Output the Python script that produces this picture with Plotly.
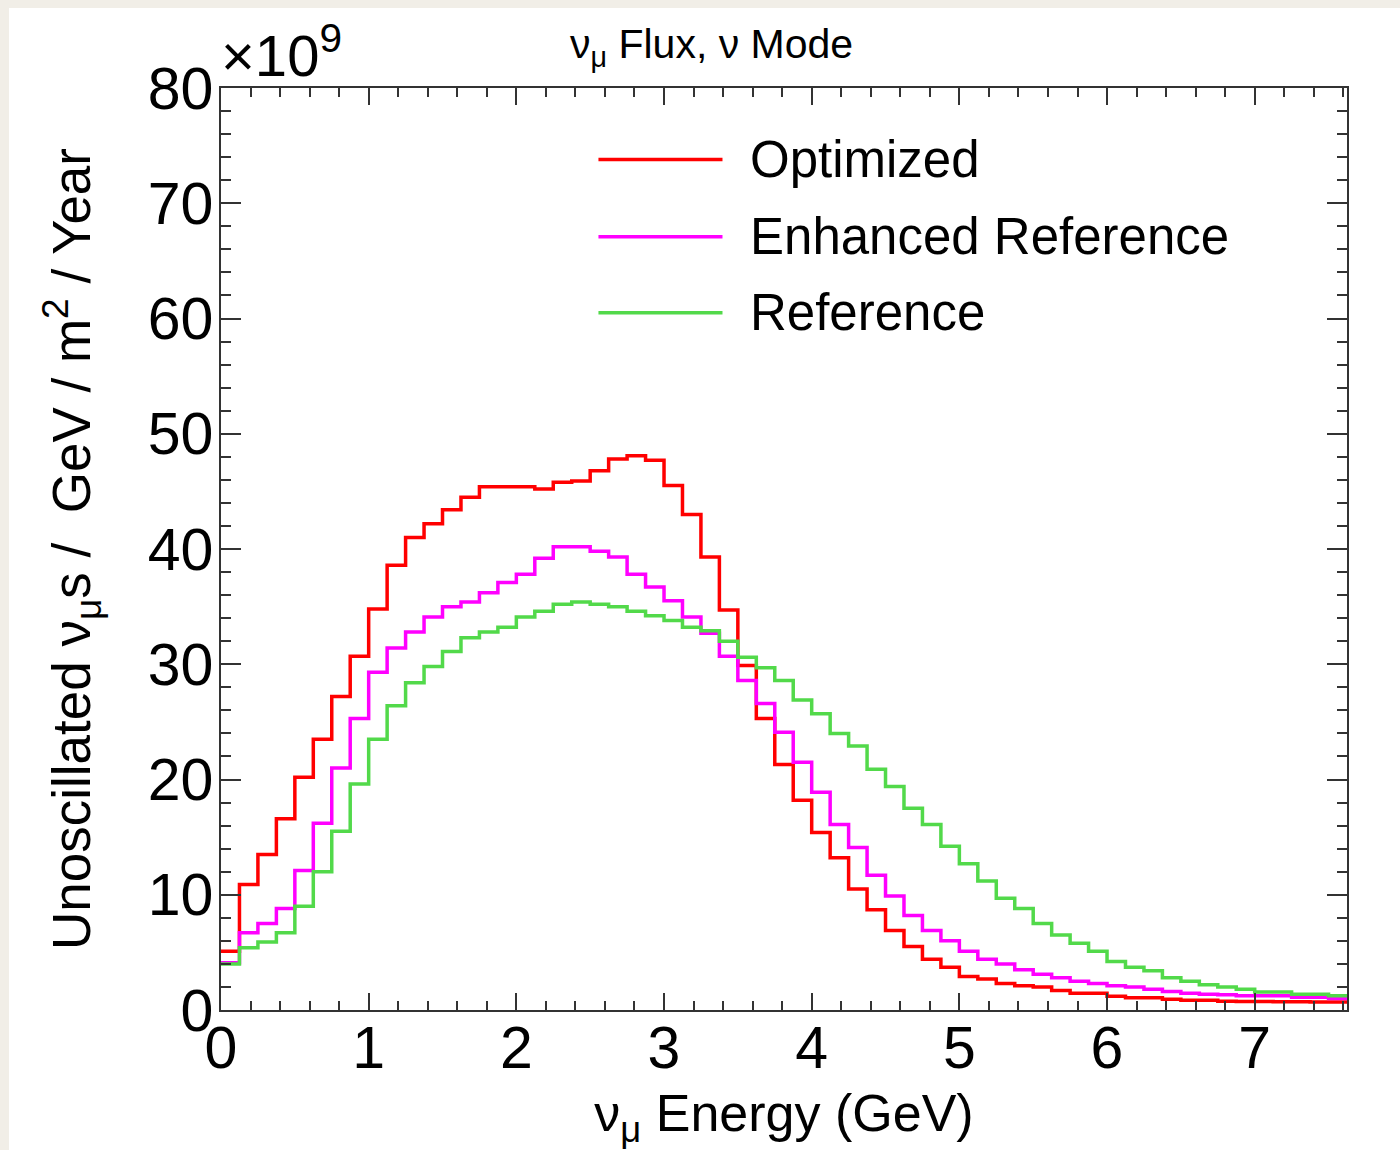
import plotly.graph_objects as go

# Energy bin edges (GeV), bin width 0.125 GeV, last edge 7.625
bin_edges = [0.0, 0.125, 0.25, 0.375, 0.5, 0.625, 0.75, 0.875, 1.0, 1.125, 1.25, 1.375,
             1.5, 1.625, 1.75, 1.875, 2.0, 2.125, 2.25, 2.375, 2.5, 2.625, 2.75, 2.875,
             3.0, 3.125, 3.25, 3.375, 3.5, 3.625, 3.75, 3.875, 4.0, 4.125, 4.25, 4.375,
             4.5, 4.625, 4.75, 4.875, 5.0, 5.125, 5.25, 5.375, 5.5, 5.625, 5.75, 5.875,
             6.0, 6.125, 6.25, 6.375, 6.5, 6.625, 6.75, 6.875, 7.0, 7.125, 7.25, 7.375,
             7.5, 7.625]

# Flux values in units of 1e9 per GeV / m^2 / year
optimized = [5.1, 10.9, 13.5, 16.6, 20.2, 23.5, 27.2, 30.7, 34.8, 38.6, 41.0, 42.2,
             43.4, 44.5, 45.4, 45.4, 45.4, 45.2, 45.8, 45.9, 46.8, 47.8, 48.1, 47.7,
             45.5, 43.0, 39.3, 34.7, 29.9, 25.3, 21.3, 18.2, 15.4, 13.2, 10.5, 8.7,
             6.9, 5.5, 4.4, 3.7, 2.9, 2.7, 2.3, 2.1, 2.0, 1.7, 1.45, 1.45,
             1.2, 1.07, 1.07, 0.93, 0.84, 0.84, 0.75, 0.74, 0.73, 0.72, 0.71, 0.70,
             0.70]

enhanced_reference = [4.1, 6.7, 7.5, 8.8, 12.1, 16.2, 21.0, 25.3, 29.3, 31.4, 32.8, 34.1,
                      35.0, 35.4, 36.2, 37.1, 37.8, 39.2, 40.2, 40.2, 39.8, 39.3, 37.8, 36.7,
                      35.5, 34.1, 32.7, 30.7, 28.6, 26.6, 24.1, 21.5, 18.9, 16.1, 14.1, 11.7,
                      9.9, 8.2, 6.9, 6.0, 5.1, 4.4, 4.0, 3.5, 3.1, 2.8, 2.5, 2.3,
                      2.1, 2.0, 1.8, 1.6, 1.45, 1.36, 1.33, 1.24, 1.24, 1.24, 1.1, 1.1,
                      1.0]

reference = [4.0, 5.4, 5.9, 6.7, 9.0, 12.0, 15.5, 19.6, 23.5, 26.4, 28.4, 29.8,
             31.1, 32.3, 32.8, 33.2, 34.1, 34.6, 35.2, 35.4, 35.2, 35.0, 34.6, 34.2,
             33.8, 33.2, 32.9, 32.0, 30.6, 29.7, 28.6, 26.9, 25.7, 24.0, 22.9, 20.9,
             19.4, 17.5, 16.1, 14.2, 12.7, 11.2, 9.7, 8.8, 7.5, 6.5, 5.8, 5.1,
             4.2, 3.7, 3.4, 2.8, 2.5, 2.2, 2.0, 1.8, 1.56, 1.56, 1.36, 1.36,
             1.24]

series_names = ["Optimized", "Enhanced Reference", "Reference"]
series_colors = ["#ff0000", "#ff00ff", "#52d94a"]
series_values = [optimized, enhanced_reference, reference]

x_tick_vals = [0, 1, 2, 3, 4, 5, 6, 7]
y_tick_vals = [0, 10, 20, 30, 40, 50, 60, 70, 80]

FONT = "Liberation Sans, Arial, Helvetica, sans-serif"

fig = go.Figure()
for name, color, vals in zip(series_names, series_colors, series_values):
    fig.add_trace(go.Scatter(
        x=bin_edges,
        y=list(vals) + [vals[-1]],
        mode="lines",
        line=dict(color=color, width=3.5, shape="hv"),
        name=name,
        showlegend=False,
    ))

axis_common = dict(
    showline=True, linecolor="#333333", linewidth=1.5,
    mirror="allticks", ticks="inside", tickcolor="#333333", tickwidth=1.5,
    showgrid=False, zeroline=False,
    tickfont=dict(family=FONT, size=59, color="black"),
)

fig.update_xaxes(
    range=[0, 7.625], tickvals=x_tick_vals, ticklen=17, ticklabelstandoff=-15,
    minor=dict(dtick=0.2, ticklen=9, ticks="inside", tickcolor="#333333", tickwidth=1.5),
    title=dict(text="ν<sub>μ</sub> Energy (GeV)", font=dict(family=FONT, size=52, color="black"), standoff=26),
    **axis_common,
)
fig.update_yaxes(
    range=[0, 80], tickvals=y_tick_vals, ticklen=20, ticklabelstandoff=-6,
    minor=dict(dtick=2, ticklen=10, ticks="inside", tickcolor="#333333", tickwidth=1.5),
    title=dict(text="Unoscillated ν<sub>μ</sub>s /  GeV / m<sup>2</sup> / Year",
               font=dict(family=FONT, size=53, color="black"), standoff=40),
    **axis_common,
)

shapes = [
    dict(type="rect", xref="paper", yref="paper", x0=-0.1883, x1=1.1, y0=-0.2, y1=1.0868,
         fillcolor="white", line=dict(width=0), layer="below"),
]
annotations = [
    dict(text="ν<sub>μ</sub> Flux, ν Mode", xref="paper", yref="paper", x=0.436, y=1.0445,
         xanchor="center", yanchor="middle", showarrow=False,
         font=dict(family=FONT, size=41, color="black")),
    dict(text="×10<sup>9</sup>", xref="paper", yref="paper", x=-0.002, y=1.0,
         xanchor="left", yanchor="bottom", showarrow=False, yshift=-2,
         font=dict(family=FONT, size=58, color="black")),
]

# Legend drawn as line samples plus labels
legend_y = [73.8, 67.1, 60.5]
for name, color, ly in zip(series_names, series_colors, legend_y):
    shapes.append(dict(type="line", xref="x", yref="y", x0=2.556, x1=3.396, y0=ly, y1=ly,
                       line=dict(color=color, width=3.5)))
    annotations.append(dict(text=name, xref="x", yref="y", x=3.57, y=ly, xanchor="left",
                            yanchor="middle", showarrow=False,
                            font=dict(family=FONT, size=51, color="black")))

fig.update_layout(
    width=1400, height=1150,
    margin=dict(l=221, r=53, t=88, b=140, autoexpand=False),
    paper_bgcolor="#f1eee7", plot_bgcolor="white",
    shapes=shapes, annotations=annotations,
    showlegend=False,
)

fig.write_html("out.html", config={"displayModeBar": False},
               post_script="document.body.style.margin='0';document.body.style.overflow='hidden';")
